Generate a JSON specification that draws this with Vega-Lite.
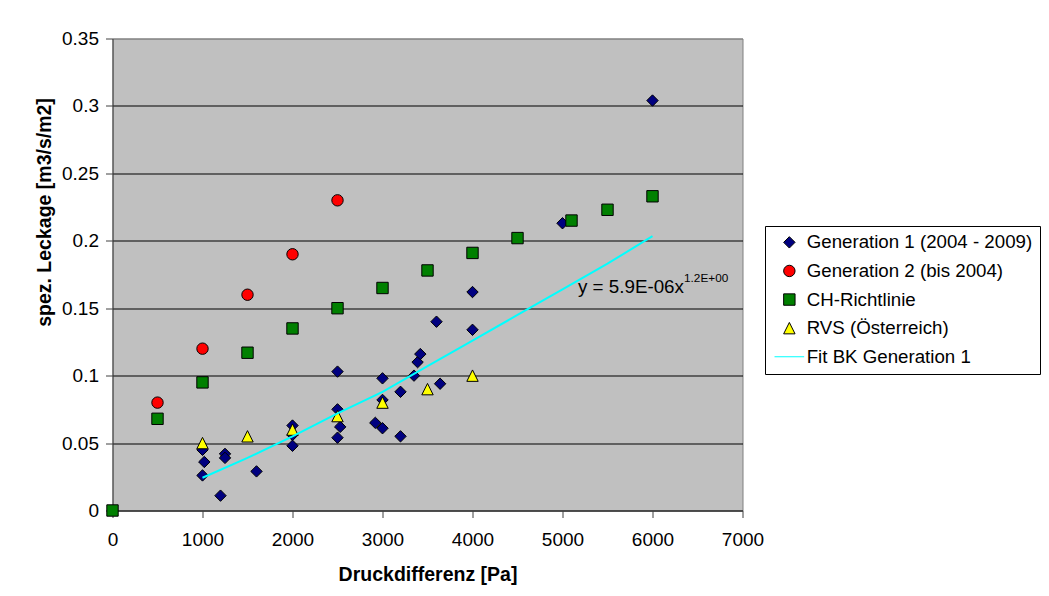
{
  "$schema": "https://vega.github.io/schema/vega-lite/v6.json",
  "width": 630,
  "height": 472,
  "autosize": {"type": "none"},
  "padding": {"left": 112.5, "top": 38.5, "right": 306.5, "bottom": 85.5},
  "background": "white",
  "config": {
    "font": "Liberation Sans",
    "view": {"fill": "#C0C0C0", "stroke": "#808080", "strokeWidth": 1},
    "legend": {
      "orient": "none",
      "legendX": 652.5,
      "legendY": 187.5,
      "strokeColor": "black",
      "fillColor": "white",
      "padding": 7,
      "symbolOffset": 8,
      "labelOffset": 8,
      "labelFontSize": 18.7,
      "labelFont": "Liberation Sans",
      "labelColor": "black",
      "labelLimit": 400,
      "rowPadding": 8.6,
      "symbolSize": 130,
      "symbolOpacity": 1
    }
  },
  "datasets": {
    "points": [
      {"series": "Generation 1 (2004 - 2009)", "x": 1000, "y": 0.026},
      {"series": "Generation 1 (2004 - 2009)", "x": 1020, "y": 0.036},
      {"series": "Generation 1 (2004 - 2009)", "x": 1000, "y": 0.045},
      {"series": "Generation 1 (2004 - 2009)", "x": 1250, "y": 0.042},
      {"series": "Generation 1 (2004 - 2009)", "x": 1250, "y": 0.039},
      {"series": "Generation 1 (2004 - 2009)", "x": 1200, "y": 0.011},
      {"series": "Generation 1 (2004 - 2009)", "x": 1600, "y": 0.029},
      {"series": "Generation 1 (2004 - 2009)", "x": 2000, "y": 0.063},
      {"series": "Generation 1 (2004 - 2009)", "x": 2000, "y": 0.056},
      {"series": "Generation 1 (2004 - 2009)", "x": 2000, "y": 0.048},
      {"series": "Generation 1 (2004 - 2009)", "x": 2500, "y": 0.103},
      {"series": "Generation 1 (2004 - 2009)", "x": 2500, "y": 0.075},
      {"series": "Generation 1 (2004 - 2009)", "x": 2530, "y": 0.062},
      {"series": "Generation 1 (2004 - 2009)", "x": 2500, "y": 0.054},
      {"series": "Generation 1 (2004 - 2009)", "x": 3000, "y": 0.098},
      {"series": "Generation 1 (2004 - 2009)", "x": 3000, "y": 0.082},
      {"series": "Generation 1 (2004 - 2009)", "x": 3000, "y": 0.061},
      {"series": "Generation 1 (2004 - 2009)", "x": 2920, "y": 0.065},
      {"series": "Generation 1 (2004 - 2009)", "x": 3200, "y": 0.088},
      {"series": "Generation 1 (2004 - 2009)", "x": 3200, "y": 0.055},
      {"series": "Generation 1 (2004 - 2009)", "x": 3350, "y": 0.1},
      {"series": "Generation 1 (2004 - 2009)", "x": 3390, "y": 0.11},
      {"series": "Generation 1 (2004 - 2009)", "x": 3420, "y": 0.116},
      {"series": "Generation 1 (2004 - 2009)", "x": 3600, "y": 0.14},
      {"series": "Generation 1 (2004 - 2009)", "x": 3640, "y": 0.094},
      {"series": "Generation 1 (2004 - 2009)", "x": 4000, "y": 0.162},
      {"series": "Generation 1 (2004 - 2009)", "x": 4000, "y": 0.134},
      {"series": "Generation 1 (2004 - 2009)", "x": 5000, "y": 0.213},
      {"series": "Generation 1 (2004 - 2009)", "x": 6000, "y": 0.304},
      {"series": "Generation 2 (bis 2004)", "x": 500, "y": 0.08},
      {"series": "Generation 2 (bis 2004)", "x": 1000, "y": 0.12},
      {"series": "Generation 2 (bis 2004)", "x": 1500, "y": 0.16},
      {"series": "Generation 2 (bis 2004)", "x": 2000, "y": 0.19},
      {"series": "Generation 2 (bis 2004)", "x": 2500, "y": 0.23},
      {"series": "CH-Richtlinie", "x": 0, "y": 0},
      {"series": "CH-Richtlinie", "x": 500, "y": 0.068},
      {"series": "CH-Richtlinie", "x": 1000, "y": 0.095},
      {"series": "CH-Richtlinie", "x": 1500, "y": 0.117},
      {"series": "CH-Richtlinie", "x": 2000, "y": 0.135},
      {"series": "CH-Richtlinie", "x": 2500, "y": 0.15},
      {"series": "CH-Richtlinie", "x": 3000, "y": 0.165},
      {"series": "CH-Richtlinie", "x": 3500, "y": 0.178},
      {"series": "CH-Richtlinie", "x": 4000, "y": 0.191},
      {"series": "CH-Richtlinie", "x": 4500, "y": 0.202},
      {"series": "CH-Richtlinie", "x": 5100, "y": 0.215},
      {"series": "CH-Richtlinie", "x": 5500, "y": 0.223},
      {"series": "CH-Richtlinie", "x": 6000, "y": 0.233},
      {"series": "RVS (Österreich)", "x": 1000, "y": 0.05},
      {"series": "RVS (Österreich)", "x": 1500, "y": 0.055},
      {"series": "RVS (Österreich)", "x": 2000, "y": 0.06},
      {"series": "RVS (Österreich)", "x": 2500, "y": 0.07},
      {"series": "RVS (Österreich)", "x": 3000, "y": 0.08},
      {"series": "RVS (Österreich)", "x": 3500, "y": 0.09},
      {"series": "RVS (Österreich)", "x": 4000, "y": 0.1}
    ],
    "fit": [
      {"x": 1000, "y": 0.0243},
      {"x": 1500, "y": 0.039},
      {"x": 2000, "y": 0.055},
      {"x": 2500, "y": 0.072},
      {"x": 3000, "y": 0.088},
      {"x": 3500, "y": 0.107},
      {"x": 4000, "y": 0.126},
      {"x": 4500, "y": 0.145},
      {"x": 5000, "y": 0.164},
      {"x": 5500, "y": 0.183},
      {"x": 6000, "y": 0.2034}
    ],
    "equation": [
      {"part": "main", "text": "y = 5.9E-06x", "x": 5172, "y": 0.1616},
      {"part": "exponent", "text": "1.2E+00", "x": 6350, "y": 0.1691}
    ]
  },
  "encoding": {
    "x": {
      "field": "x",
      "type": "quantitative",
      "scale": {"domain": [0, 7000], "nice": false, "zero": false},
      "axis": {
        "title": "Druckdifferenz [Pa]",
        "values": [0, 1000, 2000, 3000, 4000, 5000, 6000, 7000],
        "format": "d",
        "grid": false,
        "tickSize": 7,
        "tickColor": "#404040",
        "domainColor": "#404040",
        "labelFontSize": 19,
        "labelColor": "black",
        "labelPadding": 13,
        "labelFlush": false,
        "labelOverlap": false,
        "titleFontSize": 19.5,
        "titleFontWeight": "bold",
        "titleColor": "black",
        "titleY": 64,
        "titleBaseline": "middle"
      }
    },
    "y": {
      "field": "y",
      "type": "quantitative",
      "scale": {"domain": [0, 0.35], "nice": false, "zero": false},
      "axis": {
        "title": "spez. Leckage [m3/s/m2]",
        "values": [0, 0.05, 0.1, 0.15, 0.2, 0.25, 0.3, 0.35],
        "format": "~g",
        "grid": true,
        "gridColor": {"condition": {"test": "datum.value >= 0.35", "value": "#808080"}, "value": "black"},
        "gridOpacity": 1,
        "tickSize": 7,
        "tickColor": "#404040",
        "domainColor": "#404040",
        "labelFontSize": 19,
        "labelColor": "black",
        "labelPadding": 7,
        "titleFontSize": 19.5,
        "titleFontWeight": "bold",
        "titleColor": "black",
        "titleAngle": 270,
        "titleX": -68,
        "titleY": 173.5,
        "titleAlign": "center",
        "titleBaseline": "middle"
      }
    }
  },
  "layer": [
    {
      "data": {"name": "points"},
      "mark": {"type": "point", "filled": true, "opacity": 1, "size": 130},
      "encoding": {
        "fill": {
          "field": "series",
          "type": "nominal",
          "scale": {
            "domain": ["Generation 1 (2004 - 2009)", "Generation 2 (bis 2004)", "CH-Richtlinie", "RVS (Österreich)", "Fit BK Generation 1"],
            "range": ["#000080", "#FF0000", "#008000", "#FFFF00", "#00FFFF"]
          },
          "legend": {"title": null}
        },
        "stroke": {
          "field": "series",
          "type": "nominal",
          "scale": {
            "domain": ["Generation 1 (2004 - 2009)", "Generation 2 (bis 2004)", "CH-Richtlinie", "RVS (Österreich)", "Fit BK Generation 1"],
            "range": ["#000000", "#000000", "#000000", "#000000", "#00FFFF"]
          },
          "legend": {"title": null}
        },
        "strokeWidth": {
          "field": "series",
          "type": "nominal",
          "scale": {
            "domain": ["Generation 1 (2004 - 2009)", "Generation 2 (bis 2004)", "CH-Richtlinie", "RVS (Österreich)", "Fit BK Generation 1"],
            "range": [1, 1, 1, 1, 2]
          },
          "legend": {"title": null}
        },
        "shape": {
          "field": "series",
          "type": "nominal",
          "scale": {
            "domain": ["Generation 1 (2004 - 2009)", "Generation 2 (bis 2004)", "CH-Richtlinie", "RVS (Österreich)", "Fit BK Generation 1"],
            "range": ["diamond", "circle", "square", "M0,-1L1,1L-1,1Z", "M-2.6,0L2.6,0"]
          },
          "legend": {"title": null}
        }
      }
    },
    {
      "data": {"name": "fit"},
      "mark": {"type": "line", "color": "#00FFFF", "strokeWidth": 2}
    },
    {
      "data": {"name": "equation"},
      "transform": [{"filter": "datum.part === 'main'"}],
      "mark": {"type": "text", "align": "left", "baseline": "alphabetic", "fontSize": 18.8, "color": "black"},
      "encoding": {"text": {"field": "text", "type": "nominal"}}
    },
    {
      "data": {"name": "equation"},
      "transform": [{"filter": "datum.part === 'exponent'"}],
      "mark": {"type": "text", "align": "left", "baseline": "alphabetic", "fontSize": 11.8, "color": "black"},
      "encoding": {"text": {"field": "text", "type": "nominal"}}
    }
  ]
}
